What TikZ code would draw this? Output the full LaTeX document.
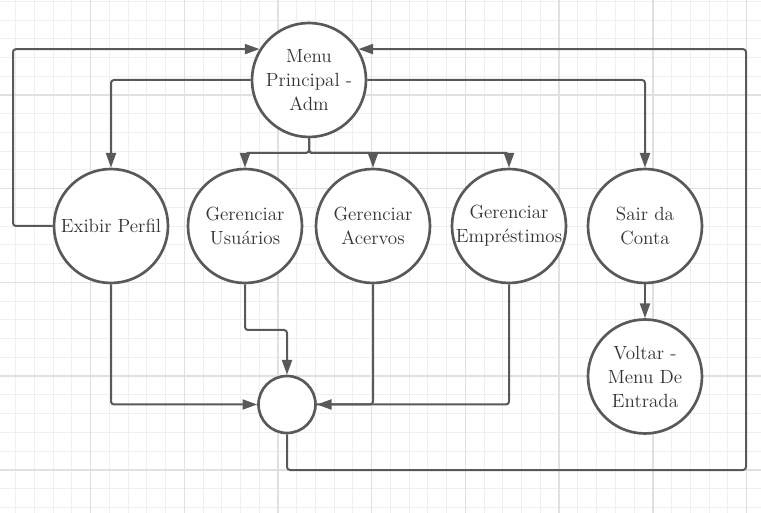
\documentclass[tikz,border=0pt]{standalone}
\usepackage{tikz}
\usetikzlibrary{arrows.meta}

\definecolor{linha}{HTML}{595959}
\definecolor{texto}{HTML}{333333}
\definecolor{gradefina}{HTML}{EFEFEF}
\definecolor{gradegrossa}{HTML}{E0E0E0}

\tikzset{
	estado/.style={circle, draw=linha, line width=2pt, fill=white, minimum size=85.5pt,
		inner sep=0pt, align=center, text=texto, font=\fontsize{14.3}{18}\selectfont},
	juncao/.style={circle, draw=linha, line width=2pt, fill=white, minimum size=42.75pt, inner sep=0pt},
	seta/.style={draw=linha, line width=1.5pt, rounded corners=2.25pt,
		-{Triangle[length=11pt,width=7.5pt]}},
	ligacao/.style={draw=linha, line width=1.5pt, rounded corners=2.25pt}
}

\begin{document}
\begin{tikzpicture}[x=0.75pt,y=-0.75pt]
\useasboundingbox (0,0) rectangle (761,513);
\fill[white] (0,0) rectangle (761,513);
% grade de fundo
\foreach \i in {0,...,40}
{
	\draw[gradefina, line width=0.75pt] (15.64+\i*18.74,0) -- (15.64+\i*18.74,513);
}
\foreach \i in {0,...,27}
{
	\draw[gradefina, line width=0.75pt] (0,1.3+\i*18.74) -- (761,1.3+\i*18.74);
}
\foreach \i in {0,...,7}
{
	\draw[gradegrossa, line width=1.1pt] (90.6+\i*93.7,0) -- (90.6+\i*93.7,513);
}
\foreach \i in {0,...,4}
{
	\draw[gradegrossa, line width=1.1pt] (0,95+\i*93.7) -- (761,95+\i*93.7);
}

% estados
\node[estado] (menu) at (309,80) {Menu\\Principal -\\Adm};
\node[estado] (perfil) at (111,226) {Exibir Perfil};
\node[estado] (usuarios) at (245,226) {Gerenciar\\Usu\'arios};
\node[estado] (acervos) at (373,226) {Gerenciar\\Acervos};
\node[estado] (emprestimos) at (509,226) {Gerenciar\\Empr\'estimos};
\node[estado] (sair) at (645,226) {Sair da\\Conta};
\node[estado] (voltar) at (645,376.5) {Voltar -\\Menu De\\Entrada};
\node[juncao] (fim) at (287,404.5) {};

\coordinate (esq) at (13,0);
\coordinate (dir) at (746,0);
\coordinate (ramo) at (0,153);
\coordinate (meio) at (0,330);
\coordinate (base) at (0,470);

% saidas do menu
\draw[seta] (menu.west) -| (perfil.north);
\draw[seta] (menu.east) -| (sair.north);
\draw[seta] (menu.south) |- (usuarios.north |- ramo) -- (usuarios.north);
\draw[seta] (menu.south) |- (acervos.north |- ramo) -- (acervos.north);
\draw[seta] (menu.south) |- (emprestimos.north |- ramo) -- (emprestimos.north);
\draw[seta] (sair.south) -- (voltar.north);

% retornos
\draw[seta] (perfil.west) -- (perfil.west -| esq) -- (menu.148 -| esq) -- (menu.148);
\draw[seta] (perfil.south) |- (fim.west);
\draw[seta] (usuarios.south) -- (usuarios.south |- meio) -| (fim.north);
\draw[ligacao] (acervos.south) |- (fim.east);
\draw[seta] (emprestimos.south) |- (fim.east);
\draw[seta] (fim.south) -- (fim.south |- base) -- (base -| dir) -- (menu.32 -| dir) -- (menu.32);
\end{tikzpicture}
\end{document}
